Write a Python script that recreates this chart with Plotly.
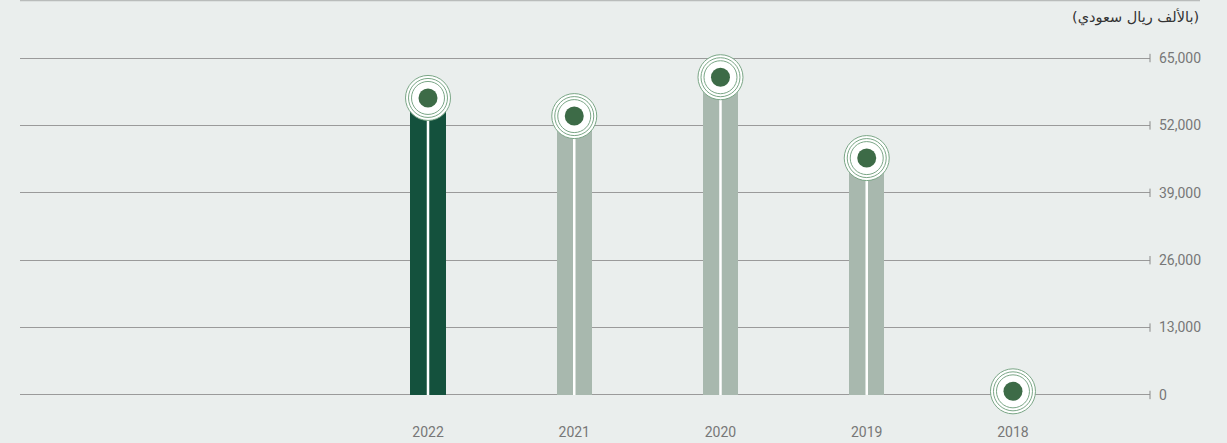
import plotly.graph_objects as go

years = ["2022", "2021", "2020", "2019", "2018"]
values = [57300, 53800, 61300, 45700, 700]
bar_colors = ["#14513d", "#a8b8ae", "#a8b8ae", "#a8b8ae", "#a8b8ae"]
tick_vals_y = [0, 13000, 26000, 39000, 52000, 65000]
title_text = "(بالألف ريال سعودي)"

xpos = list(range(len(years)))
X_MIN, X_MAX = -2.79, 4.937
Y_MIN, Y_MAX = -200, 65200

fig = go.Figure()

fig.add_trace(go.Bar(x=xpos, y=values, width=0.24, marker=dict(color=bar_colors, line=dict(width=0)),
                     showlegend=False, hoverinfo="skip"))

# white center line of each bar
for xp, v in zip(xpos, values):
    fig.add_trace(go.Scatter(x=[xp, xp], y=[0, v], mode="lines", line=dict(color="white", width=2.5),
                             showlegend=False, hoverinfo="skip"))

# gridline end ticks
fig.add_trace(go.Scatter(x=[X_MAX] * len(tick_vals_y), y=tick_vals_y, mode="markers",
                         marker=dict(symbol="line-ns", size=6, line=dict(color="#8a8a8a", width=1)),
                         cliponaxis=False, showlegend=False, hoverinfo="skip"))

ring = "#7aa686"
fig.add_trace(go.Scatter(x=xpos, y=values, mode="markers", cliponaxis=False,
                         marker=dict(size=45, color="white", line=dict(color=ring, width=1)),
                         showlegend=False, hoverinfo="skip"))
for s in [39, 33]:
    fig.add_trace(go.Scatter(x=xpos, y=values, mode="markers", cliponaxis=False,
                             marker=dict(size=s, color="rgba(0,0,0,0)", line=dict(color=ring, width=1)),
                             showlegend=False, hoverinfo="skip"))
fig.add_trace(go.Scatter(x=xpos, y=values, mode="markers", cliponaxis=False,
                         marker=dict(size=19, color="#3d6b47", line=dict(width=0)),
                         showlegend=False, hoverinfo="skip"))

ph = 337 * (Y_MAX - Y_MIN) / 65000
top = 58 - 337 * (Y_MAX - 65000) / 65000
bot = 443 - top - ph

fig.update_layout(
    width=1227, height=443,
    margin=dict(l=20, r=77, t=top, b=bot, autoexpand=False),
    paper_bgcolor="#eaeeed", plot_bgcolor="#eaeeed",
    font=dict(family="Roboto", color="#777777", size=14),
    bargap=0,
    xaxis=dict(range=[X_MIN, X_MAX], tickvals=xpos, ticktext=years, showgrid=False, zeroline=False,
               showline=False, ticks="", ticklabelstandoff=26, automargin=False, fixedrange=True),
    yaxis=dict(range=[Y_MIN, Y_MAX], side="right", tickvals=tick_vals_y, tickformat=",d",
               showgrid=True, gridcolor="#9a9a9a", gridwidth=1, zeroline=False, showline=False,
               ticks="", ticklabelstandoff=8, automargin=False, fixedrange=True),
    shapes=[dict(type="line", xref="paper", yref="paper", x0=0, x1=(1200 - 20) / 1130,
                 y0=1 + (top - 0.5) / ph, y1=1 + (top - 0.5) / ph, line=dict(color="#b9bcbb", width=1.5))],
    annotations=[dict(text=title_text, xref="paper", yref="paper", x=(1201 - 20) / 1130,
                      y=1 + (top - 17) / ph, xanchor="right", yanchor="middle", showarrow=False,
                      font=dict(family="DejaVu Sans", size=14.5, color="#333333"))],
)

fig.write_html("out.html")
